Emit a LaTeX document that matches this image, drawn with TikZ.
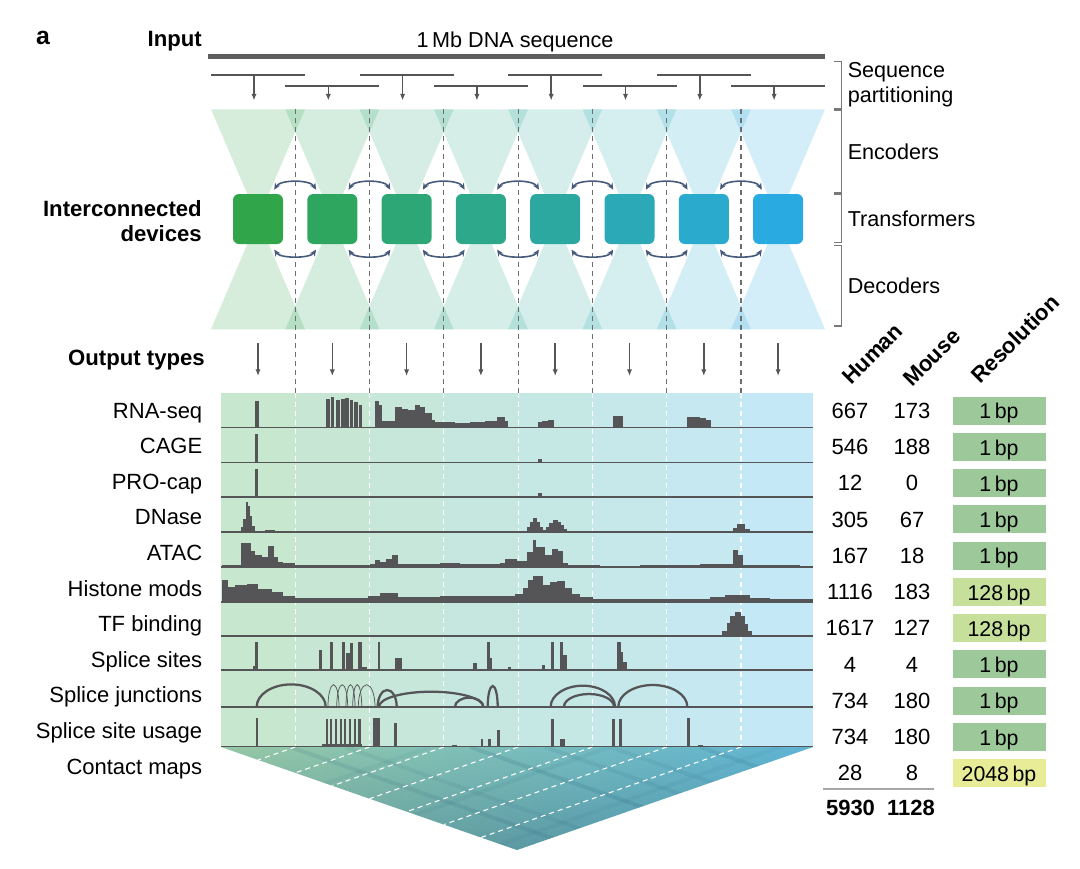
\documentclass[tikz,border=0pt]{standalone}
\usepackage{fontspec}
\setmainfont{Liberation Sans}
\usetikzlibrary{arrows.meta,calc,fadings}
\definecolor{devG}{RGB}{48,165,74}
\definecolor{devB}{RGB}{41,171,226}
\definecolor{trk}{RGB}{85,85,88}
\definecolor{arw}{RGB}{70,90,122}
\definecolor{res1}{RGB}{157,201,154}
\definecolor{res128}{RGB}{198,224,155}
\definecolor{res2048}{RGB}{232,236,150}
\definecolor{cmG}{RGB}{150,200,165}
\definecolor{cmM}{RGB}{112,184,184}
\definecolor{cmB}{RGB}{95,180,212}
\definecolor{cmD}{RGB}{20,70,105}
\definecolor{brk}{RGB}{120,120,120}
\newcommand\bars[2]{\foreach \a/\b/\h in {#2}{\fill[trk] (\a,#1) rectangle (\b,{#1-\h});}}
\begin{document}
\begin{tikzpicture}[x=0.75pt,y=-0.75pt,
  txt/.style={font=\fontsize{16.2}{19.2}\selectfont, inner sep=0pt},
  lab/.style={font=\fontsize{16.5}{20}\selectfont, inner sep=0pt, anchor=base east},
  bld/.style={font=\fontsize{16.6}{18.75}\selectfont\bfseries, inner sep=0pt},
  num/.style={font=\fontsize{16.5}{20}\selectfont, inner sep=0pt, anchor=base},
  devbox/.style={minimum size=37.5pt, inner sep=0pt, rounded corners=4.5pt, draw=none},
  darkdash/.style={draw=trk!85, line width=0.8pt, dash pattern=on 3.75pt off 3pt},
  whitedash/.style={draw=white, line width=0.9pt, dash pattern=on 3.75pt off 3pt},
  pline/.style={draw=trk, line width=1.1pt},
  parr/.style={draw=trk, line width=1.1pt, -{Latex[length=5pt,width=4pt]}},
  conn/.style={draw=arw, line width=1.2pt, {Stealth[length=5pt,width=4.5pt]}-{Stealth[length=5pt,width=4.5pt]}},
  basel/.style={draw=trk, line width=1.2pt},
  jthick/.style={draw=trk, line width=1.7pt},
  jthin/.style={draw=trk, line width=0.55pt},
  brack/.style={draw=brk, line width=0.9pt},
  resbox/.style={minimum width=70.5pt, minimum height=21.75pt, inner sep=0pt, draw=white, line width=0.5pt}
]
\useasboundingbox (0,0) rectangle (1080,868);

% ---------- hourglass encoder/decoder shapes ----------
\foreach \i in {0,...,7}{
  \pgfmathsetmacro\c{258+74.3*\i}
  \pgfmathtruncatemacro\p{round(\i*100/7)}
  \colorlet{colc}{devB!\p!devG}
  \fill[colc, fill opacity=0.2] ({\c-47},109.3) -- ({\c+47},109.3) -- (\c,219) -- cycle;
  \fill[colc, fill opacity=0.2] ({\c-47},329.3) -- ({\c+47},329.3) -- (\c,219) -- cycle;
}

% ---------- track background columns ----------
\foreach \i in {0,...,7}{
  \pgfmathsetmacro\c{258+74.3*\i}
  \pgfmathsetmacro\xl{max(221,\c-37.15)}
  \pgfmathsetmacro\xr{min(813,\c+37.15)}
  \pgfmathtruncatemacro\p{round(\i*100/7)}
  \colorlet{colc}{devB!\p!devG}
  \fill[colc!27!white] (\xl,393) rectangle (\xr,747);
}

% ---------- dashed separators ----------
\foreach \i in {0,...,6}{
  \pgfmathsetmacro\d{295.2+74.3*\i}
  \draw[darkdash] (\d,109.3) -- (\d,393);
  \draw[whitedash] (\d,393) -- (\d,747);
}

% ---------- devices ----------
\foreach \i in {0,...,7}{
  \pgfmathsetmacro\c{258+74.3*\i}
  \pgfmathtruncatemacro\p{round(\i*100/7)}
  \colorlet{colc}{devB!\p!devG}
  \node[devbox, fill=colc] (b\i) at (\c,219) {};
}
\foreach \i in {0,...,6}{
  \pgfmathtruncatemacro\j{\i+1}
  \draw[conn] ($(b\i.north east)+(-9,-4)$) .. controls ($(b\i.north east)+(-3,-14.3)$) and ($(b\j.north west)+(3,-14.3)$) .. ($(b\j.north west)+(9,-4)$);
  \draw[conn] ($(b\i.south east)+(-9,5.3)$) .. controls ($(b\i.south east)+(-3,14.3)$) and ($(b\j.south west)+(3,14.3)$) .. ($(b\j.south west)+(9,5.3)$);
}

% ---------- input and partitioning ----------
\node[bld, font=\fontsize{18.6}{20}\selectfont\bfseries] (lbla) at (43,38.3) {a};
\node[bld, anchor=east] (lblin) at (202,41) {Input};
\node[txt] (seqlbl) at (515,41.5) {1\,Mb DNA sequence};
\coordinate (in0) at (208,56.5);
\coordinate (in1) at (825,56.5);
\draw[trk!95, line width=4.2pt] (in0) -- (in1);
\foreach \i in {0,...,7}{
  \pgfmathsetmacro\c{258+74.3*\i}
  \pgfmathsetmacro\y{ifthenelse(mod(\i,2)==0,75,86)}
  \coordinate (sl\i) at ({\c-47},\y);
  \coordinate (sr\i) at ({\c+47},\y);
  \coordinate (ps\i) at ({\c-4},\y);
  \coordinate (pe\i) at ({\c-4},100.5);
  \draw[pline] (sl\i) -- (sr\i);
  \draw[parr] (ps\i) -- (pe\i);
}

% ---------- brackets and right labels ----------
\draw[brack] (834.4,61.7) -- (841.6,61.7) -- (841.6,108.6) -- (834.4,108.6);
\draw[brack] (834.4,110) -- (841.6,110) -- (841.6,192.3) -- (834.4,192.3);
\draw[brack] (834.4,194) -- (841.6,194) -- (841.6,242.7) -- (834.4,242.7);
\draw[brack] (834.4,245.7) -- (841.6,245.7) -- (841.6,326) -- (834.4,326);
\node[txt, anchor=west, align=left] (lpart) at (847.5,84.5) {Sequence\\partitioning};
\node[txt, anchor=west] (lenc) at (847.5,151.7) {Encoders};
\node[txt, anchor=west] (ltra) at (847.5,219) {Transformers};
\node[txt, anchor=west] (ldec) at (847.5,285.7) {Decoders};

\node[bld, anchor=east, align=right] (linter) at (202,220.8) {Interconnected\\devices};
\node[bld, anchor=east] (lout) at (205,360) {Output types};
\foreach \i in {0,...,7}{
  \pgfmathsetmacro\c{258+74.3*\i}
  \coordinate (os\i) at (\c,343);
  \coordinate (oe\i) at (\c,376);
  \draw[parr] (os\i) -- (oe\i);
}

% ---------- track baselines ----------
\foreach \B in {427.3,462.3,496.7,532,566.7,601.7,636,670,706.7,746.5}{
  \draw[basel] (221,\B) -- (813,\B);
}

% RNA-seq
\bars{427.3}{255/259/26, 326/329.5/28, 330.5/334/30, 336/339.5/27, 341/344.5/28, 345/348.5/29, 349.5/352.5/27, 354/357.5/25, 358.5/362/22, 375/378.5/26, 378.5/381.7/22, 381.7/395/6.5, 395/401.7/20, 401.7/408.3/18.5, 408.3/415/17, 415/420/22, 420/425/20, 425/431.7/14, 431.7/435/7.5, 435/455/5, 455/470/4.5, 470/485/5, 485/496.7/6, 496.7/505/10, 505/508.3/6, 537.7/542/5, 542/548/6.5, 548/554/7, 613/623/11.6, 687/700/10, 700/706/9.5, 706/711/7}
% CAGE
\bars{462.3}{255/257.5/28, 538/542/3.5}
% PRO-cap
\bars{496.7}{255/257.5/27.7, 538/542/3.5}
% DNase
\bars{532}{238/241/1.5, 241/243.3/5, 243.3/245.5/13, 245.5/247.7/30, 247.7/249.5/26, 249.5/251.7/16, 251.7/255/6, 255/265/1.5, 265/275/2.5, 275/287/1.5, 372/395/1.2, 400/421/1.5, 462/490/1.2, 495/515/1.5, 510/520/1, 527/530/5, 530/533/10, 533/537/14, 537/540/10, 540/543/5, 543/546/2, 546/549/5, 549/553/9, 553/558/12, 558/561/10, 561/564/7, 564/567/3, 567/577/1.5, 733/737/4, 737/745/7.7, 745/750/3}
% ATAC
\bars{566.7}{222/241/2, 241/251/24, 251/255/16, 255/262/12, 262/268/10, 268/274/21, 274/278/10, 278/283/5, 283/295/4, 295/370/2, 370/375/3, 375/380/7, 380/386/5, 386/392/8, 392/398/12, 398/410/3, 410/440/2.5, 440/460/4, 460/500/3, 500/505/4, 505/510/8, 510/517/8, 517/527/6, 527/533/15, 533/536/27, 536/545/20, 545/552/12, 552/558/18, 558/563/16, 563/568/4, 568/600/1.5, 600/640/1.2, 640/700/2, 700/733/3, 733/738/17, 738/743/12, 743/750/2, 750/800/1.5}
% Histone mods
\bars{601.7}{222/228/21.7, 228/235/15, 235/247/16.7, 247/258/18, 258/272/13, 272/283/10, 283/295/5.7, 295/368/3.3, 368/380/6, 380/398/9, 398/440/5, 440/515/5.5, 515/523/8, 523/528/14, 528/533/22, 533/543/26, 543/550/17, 550/557/20, 557/565/21, 565/572/14, 572/580/8, 580/593/4.5, 593/710/3, 710/725/5, 725/750/7, 750/770/4, 770/813/3}
% TF binding
\bars{636}{240/345/1.2, 460/515/1.2, 537/590/1.2, 718/722/1.5, 722/727/5, 727/730/13, 730/735/20, 735/741/24, 741/745/20, 745/748/12, 748/752/5, 752/755/1.5}
% Splice sites
\bars{670}{225/810/1.2, 253/255/4, 255/258.3/28.3, 319/321.7/20, 330/333/28, 341.7/345/28, 346/350/16.7, 350/353/27, 357.7/361.7/28, 361.7/366.7/3, 377.7/380.3/28, 395/401.7/11.7, 472.7/476.7/7, 486.7/490/28, 490/492/12, 508/511/3, 542.3/545/5.3, 551/554/27.7, 560/563/27.7, 563/567/15, 616.7/621/28, 621/623.3/18, 623.3/627/8}
% Splice site usage
\bars{746.5}{232/325/1, 322/362/3, 255.5/258/29, 325.5/327.8/27.3, 330/332.3/27.3, 334.5/336.8/27.3, 339.5/341.8/27.3, 344/346.3/27.3, 349/351.3/27.3, 354/356.3/27.3, 358.3/360.6/27.3, 373.3/380/29, 394/396.5/24, 452.3/456.7/2, 480.5/483/8, 488/490.5/8, 497/499.5/17, 551/553.5/28, 560/565/8, 612/614.5/28, 619/621.5/28, 687/689.5/29, 698/702.7/1.5}
% Splice junctions
\foreach \a/\b/\h in {256.7/325.7/22.3, 377.7/396.7/16.7, 379/483.3/15, 455/483.3/9, 487.7/497.7/20.7, 550.7/615/21, 564/614/12.7, 618.3/687.3/21.7}{
  \pgfmathsetmacro\m{(\a+\b)/2}\pgfmathsetmacro\w{(\b-\a)/2}
  \draw[jthick] (\a,706.7) .. controls (\a,{706.7-0.552*\h}) and ({\m-0.552*\w},{706.7-\h}) .. (\m,{706.7-\h}) .. controls ({\m+0.552*\w},{706.7-\h}) and (\b,{706.7-0.552*\h}) .. (\b,706.7);
}
\foreach \a/\b/\h in {328/339/22, 336.7/347.7/22, 346/355/22, 352.7/361.7/22, 358.3/375/22}{
  \pgfmathsetmacro\m{(\a+\b)/2}\pgfmathsetmacro\w{(\b-\a)/2}
  \draw[jthin] (\a,706.7) .. controls (\a,{706.7-0.552*\h}) and ({\m-0.552*\w},{706.7-\h}) .. (\m,{706.7-\h}) .. controls ({\m+0.552*\w},{706.7-\h}) and (\b,{706.7-0.552*\h}) .. (\b,706.7);
}

% ---------- contact map ----------
\coordinate (cmL) at (221,747);
\coordinate (cmR) at (813,747);
\coordinate (cmA) at (517,850);
\begin{scope}
  \clip (cmL) -- (cmR) -- (cmA) -- cycle;
  \shade[left color=cmG, middle color=cmM, right color=cmB] (221,747) rectangle (813,851);
  \fill[cmD, path fading=north, fill opacity=0.3] (221,747) rectangle (813,851);
  \foreach \s/\o in {290/0.10, 345/0.07, 470/0.12, 545/0.08, 610/0.07, 700/0.10}{
    \draw[cmD, opacity=\o, line width=3pt] (\s,747) -- ++(296,103);
  }
  \foreach \s/\o in {430/0.05, 610/0.06, 780/0.05}{
    \draw[cmD, opacity=\o, line width=3pt] (\s,747) -- ++(-296,103);
  }
  \foreach \i in {0,...,6}{
    \pgfmathsetmacro\d{295.2+74.3*\i}
    \draw[whitedash, line width=0.8pt] (\d,747) -- ({(\d+221)/2},{747+(\d-221)*0.174});
  }
\end{scope}

% ---------- left labels ----------
\foreach \t [count=\k from 0] in {RNA-seq,CAGE,PRO-cap,DNase,ATAC,Histone mods,TF binding,Splice sites,Splice junctions,Splice site usage,Contact maps}{
  \node[lab] (row\k) at (202.5,{418+35.6*\k}) {\t};
}

% ---------- table ----------
\node[bld, rotate=45, anchor=base west] (hHum) at (851,386) {Human};
\node[bld, rotate=45, anchor=base west] (hMou) at (912,388) {Mouse};
\node[bld, rotate=45, anchor=base west] (hRes) at (980,385) {Resolution};
\foreach \h/\m/\r [count=\k from 0] in {667/173/1, 546/188/1, 12/0/1, 305/67/1, 167/18/1, 1116/183/128, 1617/127/128, 4/4/1, 734/180/1, 734/180/1, 28/8/2048}{
  \pgfmathsetmacro\y{410.5+36.25*\k}
  \node[num] (hn\k) at (850,{\y+7.8}) {\h};
  \node[num] (mn\k) at (912,{\y+7.8}) {\m};
  \node[resbox, fill=res\r] (rb\k) at (999,\y) {};
  \node[num, font=\fontsize{16}{20}\selectfont] (rt\k) at (999,{\y+8.3}) {\r\,bp};
}
\coordinate (tl0) at (823,789);
\coordinate (tl1) at (934,789);
\draw[gray!70, line width=1.1pt] (tl0) -- (tl1);
\node[num, font=\fontsize{16.5}{20}\selectfont\bfseries] (tot1) at (850.5,815) {5930};
\node[num, font=\fontsize{16.5}{20}\selectfont\bfseries] (tot2) at (911,815) {1128};
\end{tikzpicture}
\end{document}
